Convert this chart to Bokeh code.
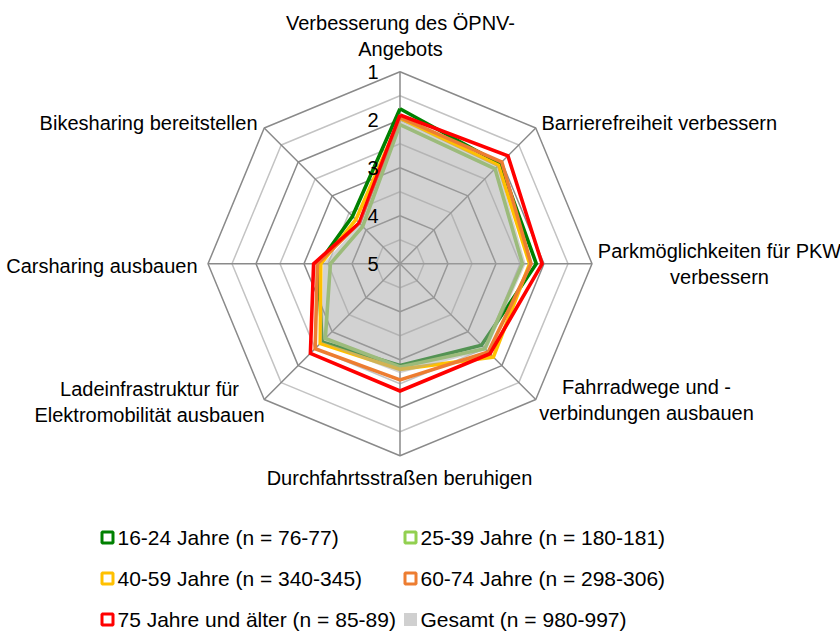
import numpy as np
from bokeh.plotting import figure
from bokeh.models import Range1d
from bokeh.embed import file_html
from bokeh.resources import INLINE
from bokeh.core.properties import value

# ---------------- data ----------------
categories = [
    "Verbesserung des ÖPNV-Angebots",
    "Barrierefreiheit verbessern",
    "Parkmöglichkeiten für PKW verbessern",
    "Fahrradwege und -verbindungen ausbauen",
    "Durchfahrtsstraßen beruhigen",
    "Ladeinfrastruktur für Elektromobilität ausbauen",
    "Carsharing ausbauen",
    "Bikesharing bereitstellen",
]
series_names = [
    "16-24 Jahre (n = 76-77)",
    "25-39 Jahre (n = 180-181)",
    "40-59 Jahre (n = 340-345)",
    "60-74 Jahre (n = 298-306)",
    "75 Jahre und älter (n = 85-89)",
    "Gesamt (n = 980-997)",
]
age_16_24 = [1.77, 2.05, 2.16, 2.60, 2.88, 2.70, 3.30, 3.60]
age_25_39 = [2.10, 2.20, 2.45, 2.50, 2.85, 2.80, 3.55, 3.90]
age_40_59 = [1.97, 2.10, 2.30, 2.25, 2.80, 2.65, 3.35, 3.70]
age_60_74 = [1.95, 2.00, 2.27, 2.40, 2.58, 2.50, 3.28, 3.80]
age_75_plus = [1.90, 1.82, 2.04, 2.35, 2.35, 2.36, 3.20, 3.80]
gesamt = [2.00, 2.12, 2.38, 2.45, 2.72, 2.68, 3.40, 3.82]
tick_labels = ["1", "2", "3", "4", "5"]
ring_values = [1.0, 1.5, 2.0, 2.5, 3.0, 3.5, 4.0, 4.5]

line_series = [age_16_24, age_25_39, age_40_59, age_60_74, age_75_plus]
line_colors = ["#008000", "#92D050", "#FFC000", "#ED7D31", "#FF0000"]
gesamt_color = "#A6A6A6"

# ---------------- layout ----------------
W, H = 840, 639
CX, CY = 399.5, 263.3      # page pixel of chart centre
S = 48.0                   # pixels per scale unit
FONT = "Liberation Sans"

def P(px, py):
    return (px - CX) / S, (CY - py) / S

x0, y1 = P(0, 0)
x1, y0 = P(W, H)

p = figure(width=W, height=H, x_range=Range1d(x0, x1), y_range=Range1d(y0, y1),
           output_backend="svg", toolbar_location=None, min_border=0,
           outline_line_color=None, background_fill_color="white")
p.axis.visible = False
p.grid.visible = False

n = len(categories)
ang = np.deg2rad(90 - 360.0 / n * np.arange(n))

def to_xy(vals):
    r = 5.0 - np.asarray(vals, dtype=float)
    x = r * np.cos(ang)
    y = r * np.sin(ang)
    return list(x) + [x[0]], list(y) + [y[0]]

# grid rings
for v in ring_values:
    xs, ys = to_xy([v] * n)
    col = "#8A8A8A" if float(v).is_integer() else "#C3C3C3"
    p.line(xs, ys, line_color=col, line_width=1.5)
# spokes
for a in ang:
    p.line([0, 4 * np.cos(a)], [0, 4 * np.sin(a)], line_color="#8A8A8A", line_width=1.5)

# series lines
for vals, col in zip(line_series, line_colors):
    xs, ys = to_xy(vals)
    p.line(xs, ys, line_color=col, line_width=3.6, line_join="miter")

# Gesamt area (semi transparent on top)
gx, gy = to_xy(gesamt)
p.patch(gx, gy, fill_color=gesamt_color, fill_alpha=0.5, line_color=None)

# tick labels on top axis
tx = P(378, 0)[0]
p.text(x=[tx] * 5, y=[5 - float(t) for t in tick_labels], text=tick_labels,
       text_font=value(FONT), text_font_size="20px", text_align="right",
       text_baseline="middle", text_color="black")

# category labels: (lines, page x, page y of first line, align)
label_specs = [
    (["Verbesserung des ÖPNV-", "Angebots"], 400, 22, "center"),
    (["Barrierefreiheit verbessern"], 541, 122, "left"),
    (["Parkmöglichkeiten für PKW", "verbessern"], 719, 250, "center"),
    (["Fahrradwege und -", "verbindungen ausbauen"], 646, 386, "center"),
    (["Durchfahrtsstraßen beruhigen"], 399, 477, "center"),
    (["Ladeinfrastruktur für", "Elektromobilität ausbauen"], 149, 388, "center"),
    (["Carsharing ausbauen"], 197, 265, "right"),
    (["Bikesharing bereitstellen"], 257, 122, "right"),
]
LH = 26
for lines, px, py, al in label_specs:
    for i, t in enumerate(lines):
        xx, yy = P(px, py + i * LH)
        p.text(x=[xx], y=[yy], text=[t], text_font=value(FONT), text_font_size="20px",
               text_align=al, text_baseline="middle", text_color="black")

# legend
leg_rows = [537, 578, 619]
leg_cols = [107, 410]
for k, name in enumerate(series_names):
    row, colm = divmod(k, 2)
    sx, sy = P(leg_cols[colm], leg_rows[row])
    if k < 5:
        p.scatter([sx], [sy], marker="square", size=11, fill_color="white",
                  line_color=line_colors[k], line_width=3)
    else:
        p.scatter([sx], [sy], marker="square", size=13, fill_color="#D0D0D0",
                  line_color=None)
    lx, ly = P(leg_cols[colm] + 10, leg_rows[row])
    p.text(x=[lx], y=[ly], text=[name], text_font=value(FONT), text_font_size="21px",
           text_align="left", text_baseline="middle", text_color="black")

open("out.html", "w").write(file_html(p, INLINE))
